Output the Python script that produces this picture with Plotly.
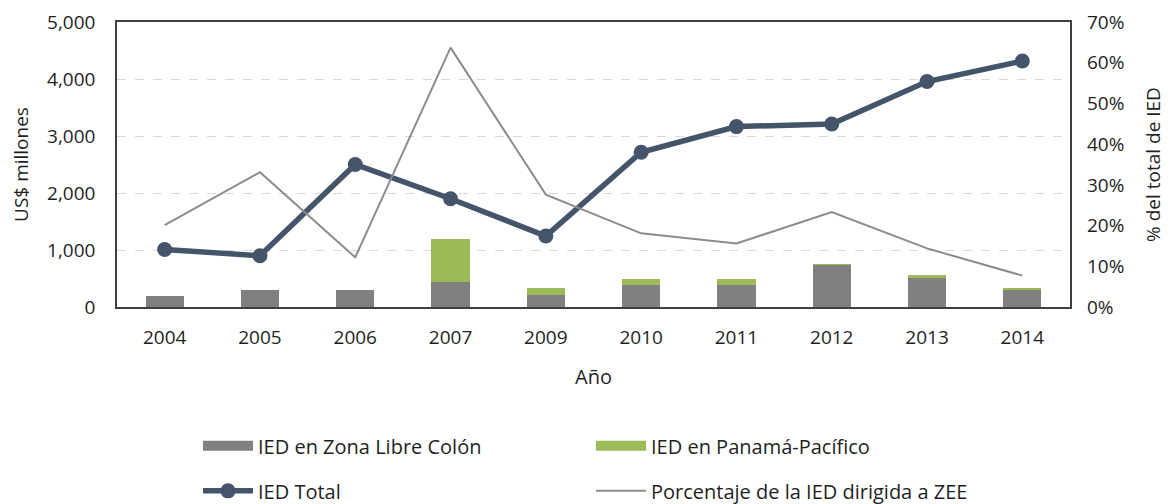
import plotly.graph_objects as go

years = ["2004", "2005", "2006", "2007", "2009", "2010", "2011", "2012", "2013", "2014"]
zona_libre_colon = [200, 300, 300, 440, 210, 385, 385, 740, 505, 315]
panama_pacifico = [0, 0, 0, 760, 125, 100, 100, 10, 57, 20]
ied_total = [1010, 900, 2500, 1900, 1245, 2715, 3165, 3210, 3955, 4315]
pct_zee = [0.201, 0.331, 0.122, 0.637, 0.276, 0.181, 0.156, 0.233, 0.144, 0.077]

FONT = "Open Sans"
TXT = "#1f1f1f"
GRAY = "#808080"
GREEN = "#9BBB59"
NAVY = "#44546A"

fig = go.Figure()
fig.add_trace(go.Bar(x=years, y=zona_libre_colon, name="IED en Zona Libre Colón",
                     marker=dict(color=GRAY, line=dict(width=0)), showlegend=False,
                     legendgroup="zlc"))
fig.add_trace(go.Bar(x=years, y=panama_pacifico, name="IED en Panamá-Pacífico",
                     marker=dict(color=GREEN, line=dict(width=0)), showlegend=False,
                     legendgroup="pp"))
# legend swatches (wide rectangles) for the two bar series
fig.add_trace(go.Scatter(x=[None], y=[None], name="IED en Zona Libre Colón", mode="lines",
                         line=dict(color=GRAY, width=16), legendgroup="zlc", legend="legend"))
fig.add_trace(go.Scatter(x=[None], y=[None], name="IED en Panamá-Pacífico", mode="lines",
                         line=dict(color=GREEN, width=16), legendgroup="pp", legend="legend"))
fig.add_trace(go.Scatter(x=years, y=ied_total, name="IED Total", mode="lines+markers",
                         line=dict(color=NAVY, width=5.5),
                         marker=dict(color=NAVY, size=15), legend="legend2"))
fig.add_trace(go.Scatter(x=years, y=pct_zee, name="Porcentaje de la IED dirigida a ZEE",
                         mode="lines", line=dict(color="#8C8C8C", width=2),
                         yaxis="y2", legend="legend2"))

legend_common = dict(orientation="h", xref="paper", yref="paper", yanchor="middle",
                     xanchor="left", x=0.085, entrywidth=328, entrywidthmode="pixels",
                     itemwidth=50, font=dict(family=FONT, size=20, color=TXT),
                     bgcolor="rgba(0,0,0,0)", traceorder="normal")

fig.update_layout(
    width=1170, height=504,
    margin=dict(l=109, r=108, t=14, b=205, autoexpand=False),
    paper_bgcolor="white", plot_bgcolor="white",
    barmode="stack", bargap=0.6,
    font=dict(family=FONT, size=19, color=TXT),
    legend=dict(y=-0.487, **legend_common),
    legend2=dict(y=-0.645, **legend_common),
    xaxis=dict(
        type="category", range=[-0.5, len(years) - 0.5],
        showline=True, linecolor="#404040", linewidth=1.5, mirror=True,
        ticks="", ticklabelstandoff=12, automargin=False, ticklabeloverflow="allow",
        title=dict(text="Año", font=dict(family=FONT, size=20, color=TXT), standoff=21),
        tickfont=dict(family=FONT, size=19, color=TXT),
    ),
    yaxis=dict(
        range=[0, 5000], dtick=1000, tickformat=",", showline=True, linecolor="#404040",
        linewidth=1.5, mirror=True, showgrid=True, gridcolor="#D9D9D9", griddash="dash",
        gridwidth=1.2, zeroline=False, ticks="", ticklabelstandoff=16, automargin=False,
        ticklabeloverflow="allow",
        title=dict(text="US$ millones", font=dict(family=FONT, size=19, color=TXT), standoff=15),
        tickfont=dict(family=FONT, size=19, color=TXT),
    ),
    yaxis2=dict(
        range=[0, 0.7], dtick=0.1, tickformat=".0%", overlaying="y", side="right",
        showgrid=False, zeroline=False, showline=False, ticks="", ticklabelstandoff=16,
        automargin=False, ticklabeloverflow="allow",
        title=dict(text="% del total de IED", font=dict(family=FONT, size=19, color=TXT), standoff=23),
        tickfont=dict(family=FONT, size=19, color=TXT),
    ),
)

fig.write_html("out.html")
